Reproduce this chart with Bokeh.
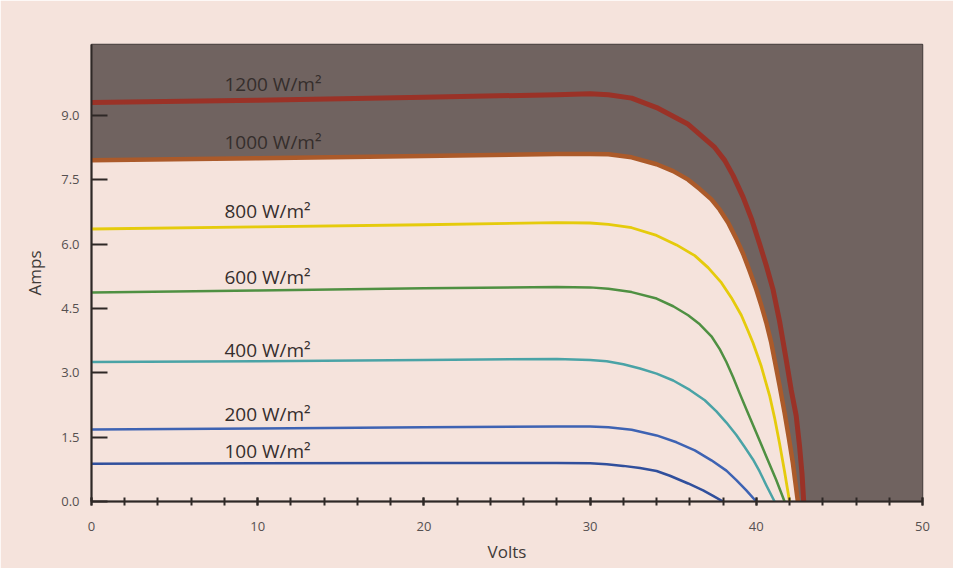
from bokeh.plotting import figure
from bokeh.models import FixedTicker, NumeralTickFormatter, Range1d, ColumnDataSource
from bokeh.core.properties import value
from bokeh.embed import file_html
from bokeh.resources import INLINE

# ---- data (Volts, Amps) ----
X_MAX = 50
Y_MAX = 10.65

volts_1200 = [0, 10, 20, 28, 30, 31.1, 32.5, 34.0, 35.9, 37.5, 38.1, 38.6, 39.2, 39.7, 40.2, 40.6,
              41.0, 41.4, 41.8, 42.1, 42.4, 42.6, 42.75, 42.85]
amps_1200 = [9.30, 9.35, 9.42, 9.48, 9.50, 9.48, 9.40, 9.18, 8.79, 8.25, 7.95, 7.60, 7.10, 6.60, 6.00, 5.50,
             4.95, 4.20, 3.30, 2.60, 2.00, 1.30, 0.65, 0.0]

volts_1000 = [0, 10, 20, 28, 30, 31.1, 32.5, 34.0, 35.0, 35.9, 36.6, 37.3, 37.8, 38.3, 38.8, 39.2, 39.6,
              40.0, 40.3, 40.6, 40.9, 41.1, 41.4, 41.7, 41.95, 42.2, 42.35, 42.5]
amps_1000 = [7.95, 8.00, 8.05, 8.10, 8.10, 8.09, 8.02, 7.86, 7.70, 7.50, 7.28, 7.04, 6.80, 6.50, 6.12, 5.78, 5.37,
             4.94, 4.57, 4.17, 3.70, 3.30, 2.70, 2.07, 1.50, 0.90, 0.45, 0.0]

volts_800 = [0, 10, 20, 28, 30, 31.1, 32.5, 34.0, 35.2, 36.3, 37.1, 37.9, 38.5, 39.1, 39.5, 39.8, 40.3,
             40.8, 41.1, 41.4, 41.7, 42.0]
amps_800 = [6.35, 6.40, 6.45, 6.50, 6.49, 6.46, 6.38, 6.20, 5.98, 5.73, 5.45, 5.10, 4.75, 4.34, 3.98, 3.70, 3.15,
            2.47, 1.95, 1.35, 0.70, 0.0]

volts_600 = [0, 10, 20, 28, 30, 31.1, 32.5, 34.0, 35.0, 35.9, 36.6, 37.3, 37.8, 38.2, 38.6, 39.0, 39.4,
             40.0, 40.6, 41.2, 41.7]
amps_600 = [4.87, 4.92, 4.97, 5.00, 4.99, 4.96, 4.88, 4.73, 4.55, 4.34, 4.13, 3.85, 3.55, 3.25, 2.90, 2.52, 2.15,
            1.60, 1.05, 0.50, 0.0]

volts_400 = [0, 10, 20, 28, 30, 31.0, 32.0, 33.0, 34.0, 35.0, 36.0, 36.9, 37.6, 38.2, 38.8, 39.3, 39.8,
             40.2, 40.6, 41.1]
amps_400 = [3.25, 3.27, 3.30, 3.32, 3.30, 3.27, 3.20, 3.10, 2.98, 2.82, 2.60, 2.36, 2.10, 1.84, 1.55, 1.27, 0.98,
            0.70, 0.38, 0.0]

volts_200 = [0, 10, 20, 28, 30, 31.1, 32.5, 34.0, 35.2, 36.3, 37.3, 38.2, 38.8, 39.4, 40.0]
amps_200 = [1.68, 1.70, 1.73, 1.75, 1.75, 1.73, 1.67, 1.54, 1.38, 1.19, 0.96, 0.72, 0.50, 0.26, 0.0]

volts_100 = [0, 10, 20, 28, 30, 31.0, 32.0, 33.0, 34.0, 34.8, 35.9, 36.8, 37.4, 38.0]
amps_100 = [0.88, 0.89, 0.90, 0.90, 0.89, 0.87, 0.83, 0.78, 0.71, 0.60, 0.42, 0.26, 0.13, 0.0]

curve_labels = ["1200 W/m²", "1000 W/m²", "800 W/m²", "600 W/m²", "400 W/m²", "200 W/m²", "100 W/m²"]
label_volts = [8.0, 8.0, 8.0, 8.0, 8.0, 8.0, 8.0]
label_amps = [9.72, 8.37, 6.78, 5.24, 3.54, 2.03, 1.17]

x_ticks = [0, 10, 20, 30, 40, 50]
x_minor = list(range(0, 51, 2))
y_ticks = [0.0, 1.5, 3.0, 4.5, 6.0, 7.5, 9.0]

# ---- styles ----
PAPER = "#f5e3dc"
GRAY = "#706360"
INK = "#352e2c"
curves = [
    (volts_1200, amps_1200, "#9a3227", 5),
    (volts_1000, amps_1000, "#ab5a2a", 4.5),
    (volts_800, amps_800, "#e5cb0c", 2.8),
    (volts_600, amps_600, "#4f9042", 2.5),
    (volts_400, amps_400, "#4aa3a6", 2.5),
    (volts_200, amps_200, "#3e63b3", 2.5),
    (volts_100, amps_100, "#304f9c", 2.5),
]

p = figure(width=953, height=568, x_range=Range1d(0, X_MAX), y_range=Range1d(0, Y_MAX),
           output_backend="svg", toolbar_location=None,
           min_border_left=91, min_border_right=31, min_border_top=44, min_border_bottom=67,
           background_fill_color=PAPER, border_fill_color=PAPER)
p.grid.visible = False
p.outline_line_color = "#4a4240"
p.outline_line_width = 1.5

# gray region outside the 1000 W/m2 curve
gx = [0, X_MAX, X_MAX] + volts_1000[::-1]
gy = [Y_MAX, Y_MAX, 0] + amps_1000[::-1]
p.patch(gx, gy, fill_color=GRAY, line_color=None)

for vx, iy, col, w in curves:
    p.line(vx, iy, line_color=col, line_width=w, line_join="round", line_cap="round")

src = ColumnDataSource(dict(x=label_volts, y=label_amps, t=curve_labels))
p.text(x="x", y="y", text="t", source=src, text_font=value("Open Sans"), text_font_size="19px",
       text_color=INK, text_baseline="middle", text_align="left")

# axes
p.xaxis.ticker = FixedTicker(ticks=x_ticks, minor_ticks=x_minor)
p.yaxis.ticker = FixedTicker(ticks=y_ticks)
p.yaxis.formatter = NumeralTickFormatter(format="0.0")
for ax in (p.xaxis, p.yaxis):
    ax.axis_line_color = "#2e2826"
    ax.axis_line_width = 2
    ax.major_tick_line_color = "#2e2826"
    ax.major_tick_line_width = 2
    ax.minor_tick_line_color = "#2e2826"
    ax.minor_tick_line_width = 2
    ax.major_label_text_font = "Open Sans"
    ax.major_label_text_color = "#555050"
    ax.major_label_text_font_size = "13px"
    ax.axis_label_text_font = "Open Sans"
    ax.axis_label_text_font_style = "normal"
    ax.axis_label_text_color = "#403a38"
    ax.axis_label_text_font_size = "17px"

p.xaxis.major_tick_in = 4
p.xaxis.major_tick_out = 4
p.xaxis.minor_tick_in = 4
p.xaxis.minor_tick_out = 4
p.xaxis.major_label_standoff = 16
p.xaxis.axis_label = "Volts"
p.xaxis.axis_label_standoff = 6

p.yaxis.major_tick_in = 16
p.yaxis.major_tick_out = 0
p.yaxis.minor_tick_line_color = None
p.yaxis.major_label_standoff = 12
p.yaxis.axis_label = "Amps"
p.yaxis.axis_label_standoff = 12

open("out.html", "w").write(file_html(p, INLINE))
